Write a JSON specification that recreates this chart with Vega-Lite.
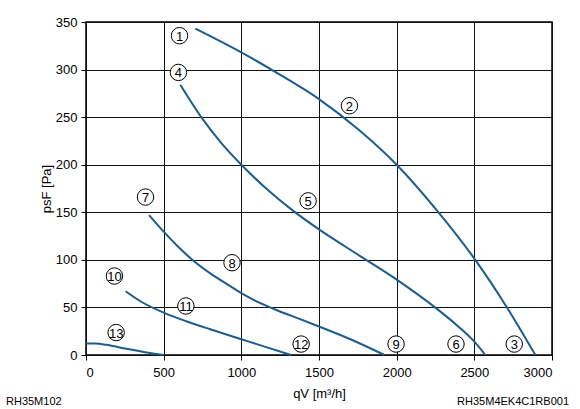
{
  "$schema": "https://vega.github.io/schema/vega-lite/v6.json",
  "width": 466,
  "height": 333,
  "autosize": "none",
  "padding": {"left": 86, "top": 22, "right": 28, "bottom": 54},
  "background": "white",
  "config": {
    "font": "Liberation Sans",
    "view": {"stroke": "#000", "strokeWidth": 1.5},
    "axis": {
      "domain": false,
      "grid": true,
      "gridColor": "#111",
      "gridWidth": 1,
      "gridOpacity": 1,
      "tickColor": "#000",
      "tickSize": 5,
      "labelFontSize": 13,
      "labelColor": "#000",
      "labelFont": "Liberation Sans",
      "titleFont": "Liberation Sans",
      "titleFontSize": 13,
      "titleFontWeight": "normal",
      "titleColor": "#000"
    }
  },
  "datasets": {
    "curves": [
      {"curve": "A", "q": 704, "p": 343},
      {"curve": "A", "q": 1000, "p": 318},
      {"curve": "A", "q": 1245, "p": 295},
      {"curve": "A", "q": 1500, "p": 269},
      {"curve": "A", "q": 1750, "p": 237.5},
      {"curve": "A", "q": 2000, "p": 200},
      {"curve": "A", "q": 2264, "p": 151},
      {"curve": "A", "q": 2506, "p": 100},
      {"curve": "A", "q": 2710, "p": 50},
      {"curve": "A", "q": 2893, "p": 0},
      {"curve": "B", "q": 607, "p": 284},
      {"curve": "B", "q": 742, "p": 250},
      {"curve": "B", "q": 870, "p": 223},
      {"curve": "B", "q": 1000, "p": 200},
      {"curve": "B", "q": 1160, "p": 175},
      {"curve": "B", "q": 1330, "p": 152},
      {"curve": "B", "q": 1500, "p": 132},
      {"curve": "B", "q": 1760, "p": 104.5},
      {"curve": "B", "q": 2000, "p": 79.3},
      {"curve": "B", "q": 2243, "p": 50.6},
      {"curve": "B", "q": 2400, "p": 29.5},
      {"curve": "B", "q": 2500, "p": 14},
      {"curve": "B", "q": 2571, "p": 0},
      {"curve": "C", "q": 406, "p": 147},
      {"curve": "C", "q": 500, "p": 129.6},
      {"curve": "C", "q": 590, "p": 114.3},
      {"curve": "C", "q": 678, "p": 101},
      {"curve": "C", "q": 800, "p": 85.8},
      {"curve": "C", "q": 923, "p": 73},
      {"curve": "C", "q": 1000, "p": 65},
      {"curve": "C", "q": 1116, "p": 55},
      {"curve": "C", "q": 1245, "p": 46},
      {"curve": "C", "q": 1374, "p": 38},
      {"curve": "C", "q": 1500, "p": 30},
      {"curve": "C", "q": 1710, "p": 16},
      {"curve": "C", "q": 1921, "p": 0},
      {"curve": "D", "q": 255, "p": 67},
      {"curve": "D", "q": 350, "p": 56.5},
      {"curve": "D", "q": 500, "p": 44.5},
      {"curve": "D", "q": 650, "p": 35.2},
      {"curve": "D", "q": 800, "p": 27},
      {"curve": "D", "q": 1000, "p": 16.6},
      {"curve": "D", "q": 1150, "p": 8.8},
      {"curve": "D", "q": 1320, "p": 0},
      {"curve": "E", "q": 0, "p": 12.2},
      {"curve": "E", "q": 60, "p": 12},
      {"curve": "E", "q": 130, "p": 10.7},
      {"curve": "E", "q": 260, "p": 6.5},
      {"curve": "E", "q": 380, "p": 3},
      {"curve": "E", "q": 500, "p": 0}
    ],
    "labels": [
      {"n": "1", "q": 602, "p": 335.6},
      {"n": "2", "q": 1696, "p": 262},
      {"n": "3", "q": 2757, "p": 11.5},
      {"n": "4", "q": 595, "p": 297},
      {"n": "5", "q": 1430, "p": 162},
      {"n": "6", "q": 2382, "p": 11.5},
      {"n": "7", "q": 383, "p": 166},
      {"n": "8", "q": 940, "p": 97},
      {"n": "9", "q": 1996, "p": 11.5},
      {"n": "10", "q": 183, "p": 83},
      {"n": "11", "q": 643, "p": 51.5},
      {"n": "12", "q": 1385, "p": 11.5},
      {"n": "13", "q": 194, "p": 23.6}
    ],
    "notes": [
      {"note": "RH35M102", "q": 0, "p": 0, "side": "left"},
      {"note": "RH35M4EK4C1RB001", "q": 3000, "p": 0, "side": "right"}
    ]
  },
  "layer": [
    {
      "data": {"name": "curves"},
      "mark": {"type": "line", "interpolate": "monotone", "color": "#1b5d8d", "strokeWidth": 2},
      "encoding": {
        "x": {
          "field": "q", "type": "quantitative",
          "scale": {"domain": [0, 3000], "nice": false},
          "axis": {"values": [0, 500, 1000, 1500, 2000, 2500, 3000], "format": "d", "title": "qV [m³/h]", "labelPadding": 6, "titlePadding": 8}
        },
        "y": {
          "field": "p", "type": "quantitative",
          "scale": {"domain": [0, 350], "nice": false},
          "axis": {"values": [0, 50, 100, 150, 200, 250, 300, 350], "format": "d", "title": "psF [Pa]", "labelPadding": 4, "titlePadding": 2}
        },
        "detail": {"field": "curve"}
      }
    },
    {
      "data": {"name": "labels"},
      "mark": {"type": "point", "shape": "circle", "size": 270, "filled": false, "fill": "white", "fillOpacity": 1, "stroke": "#000", "strokeWidth": 1, "opacity": 1},
      "encoding": {
        "x": {"field": "q", "type": "quantitative"},
        "y": {"field": "p", "type": "quantitative"}
      }
    },
    {
      "data": {"name": "labels"},
      "mark": {"type": "text", "fontSize": 13, "color": "#000", "align": "center", "baseline": "middle", "dy": 1},
      "encoding": {
        "x": {"field": "q", "type": "quantitative"},
        "y": {"field": "p", "type": "quantitative"},
        "text": {"field": "n"}
      }
    },
    {
      "data": {"name": "notes"},
      "transform": [{"filter": "datum.side == 'left'"}],
      "mark": {"type": "text", "fontSize": 11, "color": "#000", "align": "left", "baseline": "middle", "dx": -80, "dy": 47},
      "encoding": {
        "x": {"field": "q", "type": "quantitative"},
        "y": {"field": "p", "type": "quantitative"},
        "text": {"field": "note"}
      }
    },
    {
      "data": {"name": "notes"},
      "transform": [{"filter": "datum.side == 'right'"}],
      "mark": {"type": "text", "fontSize": 11, "color": "#000", "align": "right", "baseline": "middle", "dx": 17, "dy": 47},
      "encoding": {
        "x": {"field": "q", "type": "quantitative"},
        "y": {"field": "p", "type": "quantitative"},
        "text": {"field": "note"}
      }
    }
  ]
}
